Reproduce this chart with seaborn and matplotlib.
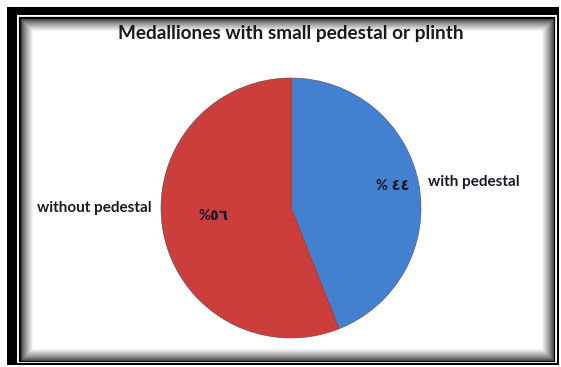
import numpy as np
import matplotlib
matplotlib.use("Agg")
import matplotlib.pyplot as plt
from matplotlib.patches import Rectangle
import seaborn as sns

# Chart data
categories = ["with pedestal", "without pedestal"]
shares = [44, 56]
share_labels = ["% \u0664\u0664", "%\u0665\u0666"]
title = "Medalliones with small pedestal or plinth"

sns.set_theme(style="white")
plt.rcParams["font.family"] = ["Lato", "DejaVu Sans"]

W, H = 561, 367
fig = plt.figure(figsize=(W / 100, H / 100), dpi=100)
fig.patch.set_facecolor("white")


def px_rect(x0, y0, x1, y1, **kw):
    """Rectangle given in pixel coordinates measured from the top-left."""
    return Rectangle((x0 / W, 1 - y1 / H), (x1 - x0) / W, (y1 - y0) / H,
                     transform=fig.transFigure, **kw)


# Picture-frame border: heavy black outer band, thin inner rule, soft inner shadow
fig.add_artist(px_rect(7, 7, 559, 365, facecolor="black", edgecolor="none", zorder=0))
fig.add_artist(px_rect(17, 15, 557, 363, facecolor="white", edgecolor="none", zorder=0.1))
fig.add_artist(px_rect(19.5, 17.5, 554, 361, facecolor="none", edgecolor="black",
                       linewidth=1.6, zorder=0.2))
for i in range(13):
    shade = 0.25 + 0.75 * (i / 12) ** 0.8
    fig.add_artist(px_rect(21 + i, 19 + i, 552.5 - i, 359.5 - i, facecolor="none",
                           edgecolor=(shade, shade, shade), linewidth=1.0,
                           zorder=0.3 + i * 0.01))
fig.add_artist(px_rect(34, 32, 539.5, 346.5, facecolor="white", edgecolor="none", zorder=0.5))

fig.text(291 / W, 1 - 34 / H, title, ha="center", va="center",
         fontsize=13.7, fontweight="bold", color="#1a1a1a", zorder=3)

# Pie axes
cx, cy, r = 291, 208, 130
ax = fig.add_axes([(cx - r) / W, (H - cy - r) / H, 2 * r / W, 2 * r / H])
ax.set_zorder(2)
ax.patch.set_alpha(0)

colors = ["#4381D0", "#CB3E3B"]
wedges, _ = ax.pie(shares, colors=colors, startangle=90, counterclock=False,
                   radius=1.0,
                   wedgeprops=dict(edgecolor="#7a3a3a", linewidth=0.4))
ax.set_xlim(-1, 1)
ax.set_ylim(-1, 1)
ax.set_aspect("equal")
ax.axis("off")

# Label placement: (radius, angle nudge in degrees) for percentage and category text
pct_place = [(0.80, 1.5), (0.60, -5.0)]
cat_place = [(1.07, 0.0), (1.07, -11.0)]
cat_align = ["left", "right"]

for w, pl, cl, plab, clab, ha in zip(wedges, pct_place, cat_place,
                                      share_labels, categories, cat_align):
    mid = np.deg2rad((w.theta1 + w.theta2) / 2)
    a = mid + np.deg2rad(pl[1])
    ax.text(pl[0] * np.cos(a), pl[0] * np.sin(a), plab, ha="center", va="center",
            fontsize=10.5, fontweight="bold", color="#1a1a2a")
    a = mid + np.deg2rad(cl[1])
    ax.text(cl[0] * np.cos(a), cl[0] * np.sin(a), clab, ha=ha, va="center",
            fontsize=11, fontweight="bold", color="#1a1a2a")

fig.savefig("out.png", dpi=100)
